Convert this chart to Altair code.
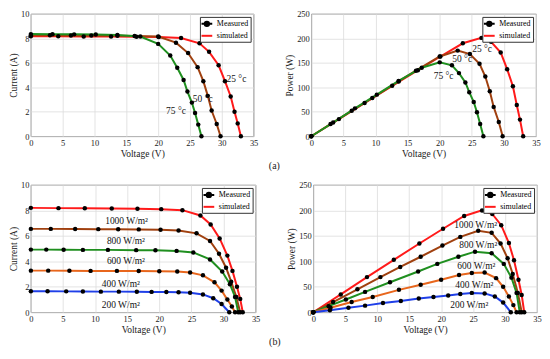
import altair as alt
import pandas as pd

FONT = "Liberation Serif"

# ---------------- (a) temperature curves ----------------
temp_names = ["25", "50", "75"]
temp_colors = ["#ff1a1a", "#a0400f", "#1f8f1f"]

t25_v = [0, 4.3, 8.3, 12.6, 16.6, 20.1, 23.6, 26.5, 28.0, 29.5, 30.5, 31.4, 32.0, 32.5, 33.0]
t25_i = [8.18, 8.17, 8.16, 8.15, 8.13, 8.11, 8.03, 7.6, 6.9, 5.8, 4.5, 3.25, 2.0, 1.05, 0]
t25_p = [0, 35, 68, 103, 135, 163, 190, 201, 193, 171, 137, 102, 64, 34, 0]

t50_v = [0, 3.0, 6.3, 9.5, 13.6, 16.3, 20.0, 22.8, 24.7, 26.2, 27.1, 27.8, 28.4, 29.2, 29.8]
t50_i = [8.25, 8.25, 8.24, 8.23, 8.22, 8.2, 8.15, 7.65, 6.8, 5.65, 4.5, 3.3, 2.1, 1.0, 0]
t50_p = [0, 25, 52, 78, 112, 134, 163, 175, 168, 148, 122, 92, 60, 29, 0]

t75_v = [0, 3.4, 6.8, 10.2, 13.6, 17.2, 20.0, 21.9, 23.0, 24.0, 24.6, 25.3, 25.8, 26.3, 26.8]
t75_i = [8.35, 8.34, 8.33, 8.31, 8.28, 8.15, 7.55, 6.6, 5.6, 4.6, 3.65, 2.75, 1.9, 0.95, 0]
t75_p = [0, 28, 57, 85, 113, 140, 151, 145, 129, 110, 90, 70, 49, 25, 0]

temp_iv_notes = ["25 °c", "50 °c", "75 °c"]
temp_iv_note_v = [32.3, 27.0, 22.8]
temp_iv_note_y = [4.7, 3.05, 2.1]
temp_pv_note_v = [26.6, 23.5, 20.6]
temp_pv_note_y = [179, 157, 124]

# ---------------- (b) irradiance curves ----------------
irr_names = ["1000", "800", "600", "400", "200"]
irr_colors = ["#ff1a1a", "#a0400f", "#1f8f1f", "#e8661c", "#1f3fe8"]

g1000_v = [0, 4.3, 8.4, 12.6, 16.6, 20.3, 23.6, 26.4, 28.0, 29.4, 30.6, 31.4, 32.1, 32.6, 33.0]
g1000_i = [8.2, 8.18, 8.17, 8.15, 8.13, 8.1, 8.02, 7.6, 6.9, 5.8, 4.45, 3.25, 2.0, 1.05, 0]
g1000_p = [0, 35, 69, 103, 135, 164, 189, 200, 193, 171, 136, 102, 64, 34, 0]

g800_v = [0, 3.1, 6.9, 10.5, 13.6, 16.8, 20.2, 23.0, 25.8, 27.9, 29.3, 30.4, 31.2, 32.0, 32.6]
g800_i = [6.55, 6.55, 6.54, 6.53, 6.52, 6.51, 6.48, 6.42, 6.2, 5.6, 4.6, 3.5, 2.4, 1.2, 0]
g800_p = [0, 20, 45, 69, 89, 109, 131, 148, 160, 156, 135, 106, 75, 38, 0]

g600_v = [0, 2.4, 5.1, 8.1, 12.0, 16.4, 19.4, 22.7, 25.3, 27.9, 29.8, 31.0, 31.8, 32.3]
g600_i = [4.92, 4.92, 4.91, 4.9, 4.9, 4.88, 4.87, 4.82, 4.7, 4.15, 3.2, 2.2, 1.2, 0]
g600_p = [0, 12, 25, 40, 59, 80, 95, 109, 119, 116, 95, 68, 38, 0]

g400_v = [0, 2.7, 6.0, 9.3, 13.4, 16.8, 20.0, 22.8, 24.8, 26.8, 28.6, 29.7, 30.6, 31.3, 31.8]
g400_i = [3.27, 3.27, 3.26, 3.25, 3.25, 3.24, 3.22, 3.2, 3.12, 2.9, 2.35, 1.7, 1.0, 0.45, 0]
g400_p = [0, 9, 20, 30, 44, 54, 64, 73, 77, 78, 67, 50, 31, 14, 0]

g200_v = [0, 2.6, 5.5, 8.1, 10.9, 13.7, 16.5, 18.8, 21.1, 23.0, 24.8, 26.8, 28.4, 29.7, 30.9]
g200_i = [1.65, 1.65, 1.64, 1.63, 1.62, 1.62, 1.61, 1.6, 1.59, 1.57, 1.53, 1.4, 1.1, 0.65, 0]
g200_p = [0, 4, 9, 13, 18, 22, 27, 30, 33, 36, 38, 37, 31, 19, 0]

irr_notes = ["1000 W/m²", "800 W/m²", "600 W/m²", "400 W/m²", "200 W/m²"]
irr_iv_note_v = [14.9, 14.8, 14.8, 14.0, 14.0]
irr_iv_note_y = [7.2, 5.57, 4.0, 2.2, 0.58]
irr_pv_note_v = [25.4, 25.8, 25.5, 25.2, 24.4]
irr_pv_note_y = [171, 132, 91, 53, 14]

x_ticks = [0, 5, 10, 15, 20, 25, 30, 35]
current_ticks = [0, 2, 4, 6, 8, 10]
power_ticks = [0, 50, 100, 150, 200, 250]

legend_series = ["Measured", "simulated"]
legend_colors = ["black", "#ff1a1a"]
legend_shapes = [
    "M-1.35,0L1.35,0M-0.55,0A0.55,0.55,0,1,1,0.55,0A0.55,0.55,0,1,1,-0.55,0Z",
    "M-1.35,0L1.35,0",
]


def long_df(names, vs, ys):
    rows = []
    for n, v, y in zip(names, vs, ys):
        for a, b in zip(v, y):
            rows.append({"curve": n, "V": a, "Y": b})
    return pd.DataFrame(rows)


def notes_df(labels, vs, ys):
    return pd.DataFrame({"label": labels, "V": vs, "Y": ys})


legend_df = pd.DataFrame({"series": legend_series, "V": [-50, -50], "Y": [-50, -50]})


def panel(df, names, colors, ymax, yticks, ytitle, notes, width, height):
    xenc = alt.X(
        "V:Q",
        scale=alt.Scale(domain=[0, 35], nice=False, zero=False),
        axis=alt.Axis(values=x_ticks, title="Voltage (V)", labelOverlap=False,
                      labelFlush=False, labelSeparation=0, labelBound=False),
    )
    yenc = alt.Y(
        "Y:Q",
        scale=alt.Scale(domain=[0, ymax], nice=False, zero=False),
        axis=alt.Axis(values=yticks, title=ytitle, labelOverlap=False,
                      labelFlush=False, labelSeparation=0, labelBound=False),
    )
    base = alt.Chart(df)
    lines = base.mark_line(strokeWidth=2).encode(
        x=xenc,
        y=yenc,
        color=alt.Color("curve:N", scale=alt.Scale(domain=names, range=colors), legend=None),
    )
    dots = base.mark_circle(size=20, color="black", opacity=1).encode(x=xenc, y=yenc)
    txt = alt.Chart(notes).mark_text(font=FONT, fontSize=9.5, color="#111111").encode(
        x=xenc, y=yenc, text="label:N"
    )
    leg = alt.Chart(legend_df).mark_point(
        clip=True, filled=True, opacity=1, size=64, strokeWidth=2
    ).encode(
        x=xenc,
        y=yenc,
        shape=alt.Shape(
            "series:N",
            scale=alt.Scale(domain=legend_series, range=legend_shapes),
            legend=alt.Legend(
                title=None,
                orient="top-right",
                offset=3,
                strokeColor="#333333",
                fillColor="white",
                padding=2,
                rowPadding=0,
                labelFont=FONT,
                labelFontSize=8,
                labelColor="black",
                symbolSize=64,
                symbolStrokeWidth=2,
                labelOffset=5,
            ),
        ),
        fill=alt.Fill("series:N", scale=alt.Scale(domain=legend_series, range=legend_colors)),
        stroke=alt.Stroke("series:N", scale=alt.Scale(domain=legend_series, range=legend_colors)),
    )
    return alt.layer(lines, dots, txt, leg).properties(width=width, height=height)


temp_iv = long_df(temp_names, [t25_v, t50_v, t75_v], [t25_i, t50_i, t75_i])
temp_pv = long_df(temp_names, [t25_v, t50_v, t75_v], [t25_p, t50_p, t75_p])
irr_vs = [g1000_v, g800_v, g600_v, g400_v, g200_v]
irr_iv = long_df(irr_names, irr_vs, [g1000_i, g800_i, g600_i, g400_i, g200_i])
irr_pv = long_df(irr_names, irr_vs, [g1000_p, g800_p, g600_p, g400_p, g200_p])

p_a1 = panel(temp_iv, temp_names, temp_colors, 10, current_ticks, "Current (A)",
             notes_df(temp_iv_notes, temp_iv_note_v, temp_iv_note_y), 224, 123)
p_a2 = panel(temp_pv, temp_names, temp_colors, 250, power_ticks, "Power (W)",
             notes_df(temp_iv_notes, temp_pv_note_v, temp_pv_note_y), 226, 123)
p_b1 = panel(irr_iv, irr_names, irr_colors, 10, current_ticks, "Current (A)",
             notes_df(irr_notes, irr_iv_note_v, irr_iv_note_y), 226, 128)
p_b2 = panel(irr_pv, irr_names, irr_colors, 250, power_ticks, "Power (W)",
             notes_df(irr_notes, irr_pv_note_v, irr_pv_note_y), 225, 128)


def row(a, b, label):
    return alt.hconcat(a, b, spacing=25).properties(
        title=alt.TitleParams(label, orient="bottom", anchor="middle", offset=3)
    ).resolve_scale(color="independent", shape="independent", fill="independent", stroke="independent")


chart = alt.vconcat(row(p_a1, p_a2, "(a)"), row(p_b1, p_b2, "(b)"), spacing=8).resolve_scale(
    color="independent", shape="independent", fill="independent", stroke="independent"
).properties(
    padding={"left": 0, "top": 0, "right": 0, "bottom": 0}
).configure_view(
    stroke="#555555", strokeWidth=0.8
).configure_axis(
    labelFont=FONT, titleFont=FONT, labelFontSize=8.5, titleFontSize=9.5,
    titleFontWeight="normal", labelColor="#1a1a1a", titleColor="#1a1a1a",
    ticks=False, domain=False, gridColor="#dcdcdc", gridWidth=0.8,
    labelPadding=2, titlePadding=2, labelOverlap=False,
).configure_title(
    font=FONT, fontSize=10, fontWeight="normal", color="#1a1a1a"
)

chart.save("out.html", embed_options={"renderer": "svg", "actions": False})
